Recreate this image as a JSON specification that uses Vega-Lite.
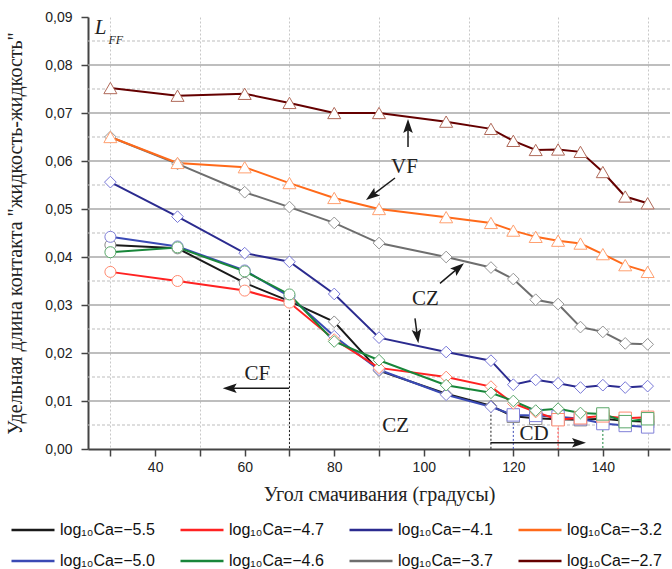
{
  "$schema": "https://vega.github.io/schema/vega-lite/v6.json",
  "autosize": {"type": "none"},
  "padding": {"left": 88, "top": 17, "right": 2, "bottom": 120},
  "width": 582,
  "height": 432,
  "background": "white",
  "config": {"view": {"stroke": null}},
  "datasets": {
    "hgrid": [
      {"v": 0.005, "k": "minor"}, {"v": 0.01, "k": "major"}, {"v": 0.015, "k": "minor"}, {"v": 0.02, "k": "major"},
      {"v": 0.025, "k": "minor"}, {"v": 0.03, "k": "major"}, {"v": 0.035, "k": "minor"}, {"v": 0.04, "k": "major"},
      {"v": 0.045, "k": "minor"}, {"v": 0.05, "k": "major"}, {"v": 0.055, "k": "minor"}, {"v": 0.06, "k": "major"},
      {"v": 0.065, "k": "minor"}, {"v": 0.07, "k": "major"}, {"v": 0.075, "k": "minor"}, {"v": 0.08, "k": "major"},
      {"v": 0.085, "k": "minor"}
    ],
    "main": [
      {"s": "log₁₀Ca=−5.5", "a": 30, "L": 0.0425, "r": "CF"},
      {"s": "log₁₀Ca=−5.5", "a": 45, "L": 0.0418, "r": "CF"},
      {"s": "log₁₀Ca=−5.5", "a": 60, "L": 0.0346, "r": "CF"},
      {"s": "log₁₀Ca=−5.5", "a": 70, "L": 0.0308, "r": "CF"},
      {"s": "log₁₀Ca=−5.5", "a": 80, "L": 0.0265, "r": "CZ"},
      {"s": "log₁₀Ca=−5.5", "a": 90, "L": 0.0163, "r": "CZ"},
      {"s": "log₁₀Ca=−5.5", "a": 105, "L": 0.0115, "r": "CZ"},
      {"s": "log₁₀Ca=−5.5", "a": 115, "L": 0.0090, "r": "CZ"},
      {"s": "log₁₀Ca=−5.5", "a": 120, "L": 0.0068, "r": "CD"},
      {"s": "log₁₀Ca=−5.5", "a": 125, "L": 0.0064, "r": "CD"},
      {"s": "log₁₀Ca=−5.5", "a": 130, "L": 0.0062, "r": "CD"},
      {"s": "log₁₀Ca=−5.5", "a": 135, "L": 0.0061, "r": "CD"},
      {"s": "log₁₀Ca=−5.5", "a": 140, "L": 0.0063, "r": "CD"},
      {"s": "log₁₀Ca=−5.5", "a": 145, "L": 0.0059, "r": "CD"},
      {"s": "log₁₀Ca=−5.5", "a": 150, "L": 0.0057, "r": "CD"},
      {"s": "log₁₀Ca=−5.0", "a": 30, "L": 0.0442, "r": "CF"},
      {"s": "log₁₀Ca=−5.0", "a": 45, "L": 0.0422, "r": "CF"},
      {"s": "log₁₀Ca=−5.0", "a": 60, "L": 0.0372, "r": "CF"},
      {"s": "log₁₀Ca=−5.0", "a": 70, "L": 0.0318, "r": "CF"},
      {"s": "log₁₀Ca=−5.0", "a": 80, "L": 0.0235, "r": "CZ"},
      {"s": "log₁₀Ca=−5.0", "a": 90, "L": 0.0165, "r": "CZ"},
      {"s": "log₁₀Ca=−5.0", "a": 105, "L": 0.0113, "r": "CZ"},
      {"s": "log₁₀Ca=−5.0", "a": 115, "L": 0.0088, "r": "CZ"},
      {"s": "log₁₀Ca=−5.0", "a": 120, "L": 0.0071, "r": "CD"},
      {"s": "log₁₀Ca=−5.0", "a": 125, "L": 0.0070, "r": "CD"},
      {"s": "log₁₀Ca=−5.0", "a": 130, "L": 0.0067, "r": "CD"},
      {"s": "log₁₀Ca=−5.0", "a": 135, "L": 0.0063, "r": "CD"},
      {"s": "log₁₀Ca=−5.0", "a": 140, "L": 0.0053, "r": "CD"},
      {"s": "log₁₀Ca=−5.0", "a": 145, "L": 0.0049, "r": "CD"},
      {"s": "log₁₀Ca=−5.0", "a": 150, "L": 0.0046, "r": "CD"},
      {"s": "log₁₀Ca=−4.7", "a": 30, "L": 0.0369, "r": "CF"},
      {"s": "log₁₀Ca=−4.7", "a": 45, "L": 0.0350, "r": "CF"},
      {"s": "log₁₀Ca=−4.7", "a": 60, "L": 0.0330, "r": "CF"},
      {"s": "log₁₀Ca=−4.7", "a": 70, "L": 0.0305, "r": "CF"},
      {"s": "log₁₀Ca=−4.7", "a": 80, "L": 0.0228, "r": "CZ"},
      {"s": "log₁₀Ca=−4.7", "a": 90, "L": 0.0169, "r": "CZ"},
      {"s": "log₁₀Ca=−4.7", "a": 105, "L": 0.0150, "r": "CZ"},
      {"s": "log₁₀Ca=−4.7", "a": 115, "L": 0.0130, "r": "CZ"},
      {"s": "log₁₀Ca=−4.7", "a": 120, "L": 0.0095, "r": "CZ"},
      {"s": "log₁₀Ca=−4.7", "a": 125, "L": 0.0077, "r": "CZ"},
      {"s": "log₁₀Ca=−4.7", "a": 130, "L": 0.0061, "r": "CD"},
      {"s": "log₁₀Ca=−4.7", "a": 135, "L": 0.0065, "r": "CD"},
      {"s": "log₁₀Ca=−4.7", "a": 140, "L": 0.0069, "r": "CD"},
      {"s": "log₁₀Ca=−4.7", "a": 145, "L": 0.0064, "r": "CD"},
      {"s": "log₁₀Ca=−4.7", "a": 150, "L": 0.0066, "r": "CD"},
      {"s": "log₁₀Ca=−4.6", "a": 30, "L": 0.0410, "r": "CF"},
      {"s": "log₁₀Ca=−4.6", "a": 45, "L": 0.0420, "r": "CF"},
      {"s": "log₁₀Ca=−4.6", "a": 60, "L": 0.0370, "r": "CF"},
      {"s": "log₁₀Ca=−4.6", "a": 70, "L": 0.0322, "r": "CF"},
      {"s": "log₁₀Ca=−4.6", "a": 80, "L": 0.0224, "r": "CZ"},
      {"s": "log₁₀Ca=−4.6", "a": 90, "L": 0.0185, "r": "CZ"},
      {"s": "log₁₀Ca=−4.6", "a": 105, "L": 0.0133, "r": "CZ"},
      {"s": "log₁₀Ca=−4.6", "a": 115, "L": 0.0117, "r": "CZ"},
      {"s": "log₁₀Ca=−4.6", "a": 120, "L": 0.0100, "r": "CZ"},
      {"s": "log₁₀Ca=−4.6", "a": 125, "L": 0.0080, "r": "CZ"},
      {"s": "log₁₀Ca=−4.6", "a": 130, "L": 0.0084, "r": "CZ"},
      {"s": "log₁₀Ca=−4.6", "a": 135, "L": 0.0075, "r": "CZ"},
      {"s": "log₁₀Ca=−4.6", "a": 140, "L": 0.0073, "r": "CD"},
      {"s": "log₁₀Ca=−4.6", "a": 145, "L": 0.0057, "r": "CD"},
      {"s": "log₁₀Ca=−4.6", "a": 150, "L": 0.0063, "r": "CD"},
      {"s": "log₁₀Ca=−4.1", "a": 30, "L": 0.0556, "r": "CZ"},
      {"s": "log₁₀Ca=−4.1", "a": 45, "L": 0.0484, "r": "CZ"},
      {"s": "log₁₀Ca=−4.1", "a": 60, "L": 0.0408, "r": "CZ"},
      {"s": "log₁₀Ca=−4.1", "a": 70, "L": 0.0390, "r": "CZ"},
      {"s": "log₁₀Ca=−4.1", "a": 80, "L": 0.0323, "r": "CZ"},
      {"s": "log₁₀Ca=−4.1", "a": 90, "L": 0.0232, "r": "CZ"},
      {"s": "log₁₀Ca=−4.1", "a": 105, "L": 0.0202, "r": "CZ"},
      {"s": "log₁₀Ca=−4.1", "a": 115, "L": 0.0184, "r": "CZ"},
      {"s": "log₁₀Ca=−4.1", "a": 120, "L": 0.0134, "r": "CZ"},
      {"s": "log₁₀Ca=−4.1", "a": 125, "L": 0.0144, "r": "CZ"},
      {"s": "log₁₀Ca=−4.1", "a": 130, "L": 0.0137, "r": "CZ"},
      {"s": "log₁₀Ca=−4.1", "a": 135, "L": 0.0128, "r": "CZ"},
      {"s": "log₁₀Ca=−4.1", "a": 140, "L": 0.0133, "r": "CZ"},
      {"s": "log₁₀Ca=−4.1", "a": 145, "L": 0.0128, "r": "CZ"},
      {"s": "log₁₀Ca=−4.1", "a": 150, "L": 0.0131, "r": "CZ"},
      {"s": "log₁₀Ca=−3.7", "a": 30, "L": 0.0650, "r": "CZ"},
      {"s": "log₁₀Ca=−3.7", "a": 45, "L": 0.0594, "r": "CZ"},
      {"s": "log₁₀Ca=−3.7", "a": 60, "L": 0.0535, "r": "CZ"},
      {"s": "log₁₀Ca=−3.7", "a": 70, "L": 0.0504, "r": "CZ"},
      {"s": "log₁₀Ca=−3.7", "a": 80, "L": 0.0471, "r": "CZ"},
      {"s": "log₁₀Ca=−3.7", "a": 90, "L": 0.0429, "r": "CZ"},
      {"s": "log₁₀Ca=−3.7", "a": 105, "L": 0.0400, "r": "CZ"},
      {"s": "log₁₀Ca=−3.7", "a": 115, "L": 0.0378, "r": "CZ"},
      {"s": "log₁₀Ca=−3.7", "a": 120, "L": 0.0354, "r": "CZ"},
      {"s": "log₁₀Ca=−3.7", "a": 125, "L": 0.0311, "r": "CZ"},
      {"s": "log₁₀Ca=−3.7", "a": 130, "L": 0.0302, "r": "CZ"},
      {"s": "log₁₀Ca=−3.7", "a": 135, "L": 0.0254, "r": "CZ"},
      {"s": "log₁₀Ca=−3.7", "a": 140, "L": 0.0244, "r": "CZ"},
      {"s": "log₁₀Ca=−3.7", "a": 145, "L": 0.0220, "r": "CZ"},
      {"s": "log₁₀Ca=−3.7", "a": 150, "L": 0.0218, "r": "CZ"},
      {"s": "log₁₀Ca=−3.2", "a": 30, "L": 0.0650, "r": "VF"},
      {"s": "log₁₀Ca=−3.2", "a": 45, "L": 0.0596, "r": "VF"},
      {"s": "log₁₀Ca=−3.2", "a": 60, "L": 0.0587, "r": "VF"},
      {"s": "log₁₀Ca=−3.2", "a": 70, "L": 0.0554, "r": "VF"},
      {"s": "log₁₀Ca=−3.2", "a": 80, "L": 0.0523, "r": "VF"},
      {"s": "log₁₀Ca=−3.2", "a": 90, "L": 0.0500, "r": "VF"},
      {"s": "log₁₀Ca=−3.2", "a": 105, "L": 0.0483, "r": "VF"},
      {"s": "log₁₀Ca=−3.2", "a": 115, "L": 0.0471, "r": "VF"},
      {"s": "log₁₀Ca=−3.2", "a": 120, "L": 0.0455, "r": "VF"},
      {"s": "log₁₀Ca=−3.2", "a": 125, "L": 0.0442, "r": "VF"},
      {"s": "log₁₀Ca=−3.2", "a": 130, "L": 0.0434, "r": "VF"},
      {"s": "log₁₀Ca=−3.2", "a": 135, "L": 0.0428, "r": "VF"},
      {"s": "log₁₀Ca=−3.2", "a": 140, "L": 0.0406, "r": "VF"},
      {"s": "log₁₀Ca=−3.2", "a": 145, "L": 0.0383, "r": "VF"},
      {"s": "log₁₀Ca=−3.2", "a": 150, "L": 0.0369, "r": "VF"},
      {"s": "log₁₀Ca=−2.7", "a": 30, "L": 0.0752, "r": "VF"},
      {"s": "log₁₀Ca=−2.7", "a": 45, "L": 0.0736, "r": "VF"},
      {"s": "log₁₀Ca=−2.7", "a": 60, "L": 0.0740, "r": "VF"},
      {"s": "log₁₀Ca=−2.7", "a": 70, "L": 0.0721, "r": "VF"},
      {"s": "log₁₀Ca=−2.7", "a": 80, "L": 0.0700, "r": "VF"},
      {"s": "log₁₀Ca=−2.7", "a": 90, "L": 0.0700, "r": "VF"},
      {"s": "log₁₀Ca=−2.7", "a": 105, "L": 0.0682, "r": "VF"},
      {"s": "log₁₀Ca=−2.7", "a": 115, "L": 0.0667, "r": "VF"},
      {"s": "log₁₀Ca=−2.7", "a": 120, "L": 0.0642, "r": "VF"},
      {"s": "log₁₀Ca=−2.7", "a": 125, "L": 0.0623, "r": "VF"},
      {"s": "log₁₀Ca=−2.7", "a": 130, "L": 0.0624, "r": "VF"},
      {"s": "log₁₀Ca=−2.7", "a": 135, "L": 0.0619, "r": "VF"},
      {"s": "log₁₀Ca=−2.7", "a": 140, "L": 0.0577, "r": "VF"},
      {"s": "log₁₀Ca=−2.7", "a": 145, "L": 0.0526, "r": "VF"},
      {"s": "log₁₀Ca=−2.7", "a": 150, "L": 0.0512, "r": "VF"}
    ],
    "drops": [
      {"s": "log₁₀Ca=−5.5", "a": 70, "L": 0.0306},
      {"s": "log₁₀Ca=−5.5", "a": 115, "L": 0.0088},
      {"s": "log₁₀Ca=−5.0", "a": 120, "L": 0.0071},
      {"s": "log₁₀Ca=−4.7", "a": 130, "L": 0.0061},
      {"s": "log₁₀Ca=−4.6", "a": 140, "L": 0.0073}
    ],
    "shafts": [
      {"x": 96.48, "y": 0.06292, "x2": 96.48, "y2": 0.06688},
      {"x": 93.57, "y": 0.05646, "x2": 88.52, "y2": 0.05288},
      {"x": 103.62, "y": 0.03452, "x2": 107.6, "y2": 0.03763},
      {"x": 98.04, "y": 0.02723, "x2": 98.54, "y2": 0.02367},
      {"x": 69.9, "y": 0.01265, "x2": 56.87, "y2": 0.01265},
      {"x": 114.9, "y": 0.00131, "x2": 134.45, "y2": 0.00131}
    ],
    "heads": [
      {"x": 96.48, "y": 0.06708, "ang": 0},
      {"x": 88.52, "y": 0.05288, "ang": 233},
      {"x": 107.6, "y": 0.03763, "ang": 50},
      {"x": 98.54, "y": 0.02367, "ang": 172},
      {"x": 56.87, "y": 0.01265, "ang": 270},
      {"x": 134.45, "y": 0.00131, "ang": 90}
    ],
    "labels": [
      {"x": 95.7, "y": 0.0588, "t": "VF"},
      {"x": 100.35, "y": 0.03125, "t": "CZ"},
      {"x": 93.72, "y": 0.00486, "t": "CZ"},
      {"x": 62.82, "y": 0.01563, "t": "CF"},
      {"x": 124.62, "y": 0.00319, "t": "CD"}
    ]
  },
  "layer": [
    {
      "data": {"name": "hgrid"},
      "transform": [{"filter": "datum.k == 'major'"}],
      "mark": {"type": "rule", "color": "#a8a8a8", "strokeWidth": 1.5},
      "encoding": {
        "y": {
          "field": "v", "type": "quantitative",
          "scale": {"domain": [0, 0.09], "nice": false},
          "axis": {
            "values": [0, 0.005, 0.01, 0.015, 0.02, 0.025, 0.03, 0.035, 0.04, 0.045, 0.05, 0.055, 0.06, 0.065, 0.07, 0.075, 0.08, 0.085, 0.09],
            "labelExpr": "abs(datum.value*100 - round(datum.value*100)) < 0.001 ? replace(format(datum.value, '.2f'), '.', ',') : ''",
            "tickSize": 7,
            "tickWidth": 1.5, "tickColor": "#444",
            "domainColor": "#444", "domainWidth": 2,
            "labelPadding": 9, "labelFont": "Liberation Sans", "labelFontSize": 14, "labelColor": "#222",
            "title": "Удельная длина контакта \"жидкость-жидкость\"",
            "titleFont": "Liberation Serif", "titleFontSize": 20, "titleFontWeight": "normal", "titleColor": "#222",
            "titleX": -73, "titleY": 216, "titleAlign": "center", "titleBaseline": "middle",
            "grid": false
          }
        }
      }
    },
    {
      "data": {"name": "hgrid"},
      "transform": [{"filter": "datum.k == 'minor'"}],
      "mark": {"type": "rule", "color": "#bdbdbd", "strokeWidth": 1.2, "strokeDash": [3, 2]},
      "encoding": {"y": {"field": "v", "type": "quantitative"}}
    },
    {
      "data": {"name": "main"},
      "mark": {"type": "line", "strokeWidth": 2},
      "encoding": {
        "x": {
          "field": "a", "type": "quantitative",
          "scale": {"domain": [25, 155], "nice": false, "zero": false},
          "axis": {
            "values": [30, 40, 50, 60, 70, 80, 90, 100, 110, 120, 130, 140, 150],
            "labelExpr": "datum.value % 20 == 0 ? datum.label : ''",
            "tickSize": 7, "tickWidth": 1.5, "tickColor": "#444",
            "domainColor": "#444", "domainWidth": 2,
            "labelPadding": 4, "labelFont": "Liberation Sans", "labelFontSize": 14, "labelColor": "#222",
            "title": "Угол смачивания (градусы)",
            "titleFont": "Liberation Serif", "titleFontSize": 20, "titleFontWeight": "normal", "titleColor": "#222",
            "titleY": 45, "titleBaseline": "middle",
            "grid": true, "gridColor": "#c8c8c8", "gridDash": [2, 2], "gridWidth": 1,
            "gridOpacity": {"condition": {"test": "datum.value % 20 == 0", "value": 0}, "value": 1}
          }
        },
        "y": {"field": "L", "type": "quantitative"},
        "color": {
          "field": "s", "type": "nominal",
          "scale": {
            "domain": ["log₁₀Ca=−5.5", "log₁₀Ca=−4.7", "log₁₀Ca=−4.1", "log₁₀Ca=−3.2", "log₁₀Ca=−5.0", "log₁₀Ca=−4.6", "log₁₀Ca=−3.7", "log₁₀Ca=−2.7"],
            "range": ["#1a1a1a", "#ff2222", "#2b2b8f", "#ff6a1a", "#3a4ab5", "#18863a", "#6e6e6e", "#650000"]
          },
          "legend": {
            "orient": "none", "legendX": -78, "legendY": 490, "columns": 4, "direction": "horizontal",
            "title": null, "symbolType": "stroke", "symbolSize": 1850, "symbolStrokeWidth": 2.5,
            "labelFont": "Liberation Sans", "labelFontSize": 16, "labelColor": "#111", "labelOffset": 4,
            "columnPadding": 20, "rowPadding": 0, "gridAlign": "all", "labelLimit": 200
          }
        }
      }
    },
    {
      "data": {"name": "drops"},
      "mark": {"type": "rule", "strokeDash": [2, 2], "strokeWidth": 1},
      "encoding": {
        "x": {"field": "a", "type": "quantitative"},
        "y": {"field": "L", "type": "quantitative"},
        "y2": {"datum": 0},
        "color": {"field": "s", "type": "nominal"}
      }
    },
    {
      "data": {"name": "main"},
      "mark": {"type": "point", "filled": true, "fill": "white", "strokeWidth": 1, "opacity": 1},
      "encoding": {
        "x": {"field": "a", "type": "quantitative"},
        "y": {"field": "L", "type": "quantitative"},
        "stroke": {
          "field": "s", "type": "nominal", "legend": null,
          "scale": {
            "domain": ["log₁₀Ca=−5.5", "log₁₀Ca=−4.7", "log₁₀Ca=−4.1", "log₁₀Ca=−3.2", "log₁₀Ca=−5.0", "log₁₀Ca=−4.6", "log₁₀Ca=−3.7", "log₁₀Ca=−2.7"],
            "range": ["#8a8a8a", "#ff8a70", "#7878d8", "#ffa070", "#8080d8", "#5aa86a", "#959595", "#b06a5a"]
          }
        },
        "shape": {
          "field": "r", "type": "nominal", "legend": null,
          "scale": {"domain": ["CF", "CZ", "CD", "VF"], "range": ["circle", "diamond", "square", "triangle-up"]}
        },
        "size": {
          "field": "r", "type": "nominal", "legend": null,
          "scale": {"domain": ["CF", "CZ", "CD", "VF"], "range": [121, 170, 100, 210]}
        }
      }
    },
    {
      "data": {"name": "shafts"},
      "mark": {"type": "rule", "color": "#1a1a1a", "strokeWidth": 1.5},
      "encoding": {
        "x": {"field": "x", "type": "quantitative"},
        "y": {"field": "y", "type": "quantitative"},
        "x2": {"field": "x2"},
        "y2": {"field": "y2"}
      }
    },
    {
      "data": {"name": "heads"},
      "mark": {"type": "point", "filled": true, "color": "#1a1a1a", "opacity": 1, "size": 256, "shape": "M0,-1L0.6,0.75L0,0.4L-0.6,0.75Z"},
      "encoding": {
        "x": {"field": "x", "type": "quantitative"},
        "y": {"field": "y", "type": "quantitative"},
        "angle": {"field": "ang", "type": "quantitative", "scale": null}
      }
    },
    {
      "data": {"name": "labels"},
      "mark": {"type": "text", "font": "Liberation Serif", "fontSize": 21, "color": "#222", "align": "center", "baseline": "middle"},
      "encoding": {
        "x": {"field": "x", "type": "quantitative"},
        "y": {"field": "y", "type": "quantitative"},
        "text": {"field": "t"}
      }
    },
    {
      "data": {"values": [{"x": 27.84, "y": 0.08765, "t": "L"}]},
      "mark": {"type": "text", "font": "Liberation Serif", "fontSize": 21, "fontStyle": "italic", "color": "#222", "align": "center", "baseline": "middle"},
      "encoding": {
        "x": {"field": "x", "type": "quantitative"},
        "y": {"field": "y", "type": "quantitative"},
        "text": {"field": "t"}
      }
    },
    {
      "data": {"values": [{"x": 31.2, "y": 0.0852, "t": "FF"}]},
      "mark": {"type": "text", "font": "Liberation Serif", "fontSize": 12, "fontStyle": "italic", "color": "#222", "align": "center", "baseline": "middle"},
      "encoding": {
        "x": {"field": "x", "type": "quantitative"},
        "y": {"field": "y", "type": "quantitative"},
        "text": {"field": "t"}
      }
    }
  ]
}
